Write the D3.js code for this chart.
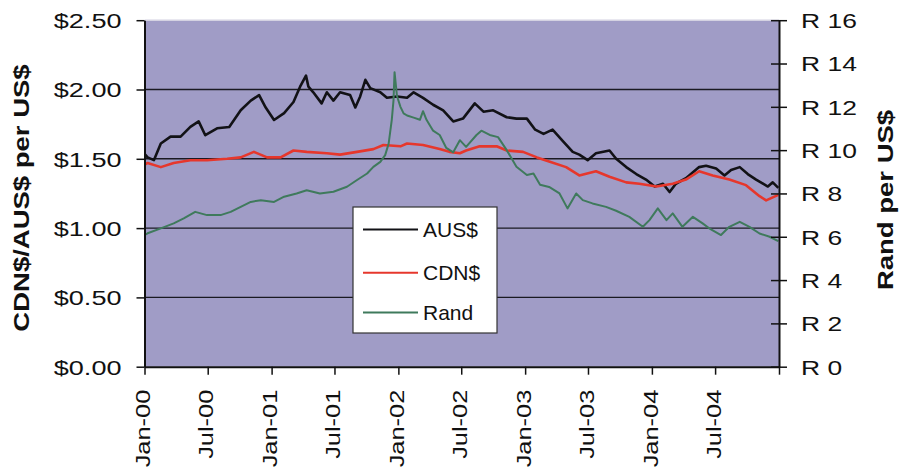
<!DOCTYPE html>
<html>
<head>
<meta charset="utf-8">
<script src="https://cdn.jsdelivr.net/npm/d3@7"></script>
<style>
  html, body { margin: 0; padding: 0; background: #ffffff; }
  svg { display: block; }
  text { font-family: Arial, "Liberation Sans", sans-serif; fill: #111; }
</style>
</head>
<body>
<svg id="chart" width="903" height="475"></svg>
<script>
// ---------------- data ----------------
const seriesNames = ["AUS$", "CDN$", "Rand"];

const audDates = ["2000-01-03","2000-01-10","2000-01-28","2000-02-17","2000-03-16","2000-04-14","2000-05-12","2000-06-05","2000-06-24","2000-07-28","2000-09-01","2000-10-04","2000-11-02","2000-11-26","2000-12-15","2001-01-08","2001-02-06","2001-03-05","2001-03-24","2001-04-10","2001-04-17","2001-05-01","2001-05-25","2001-06-09","2001-06-28","2001-07-17","2001-08-15","2001-08-30","2001-09-13","2001-09-28","2001-10-12","2001-11-10","2001-11-29","2001-12-28","2002-01-26","2002-02-14","2002-03-13","2002-04-11","2002-05-10","2002-06-08","2002-07-06","2002-08-09","2002-09-03","2002-10-01","2002-11-09","2002-12-07","2003-01-06","2003-01-30","2003-02-23","2003-03-21","2003-04-19","2003-05-18","2003-06-06","2003-06-30","2003-07-24","2003-09-01","2003-09-20","2003-10-19","2003-11-17","2003-12-15","2004-01-09","2004-02-02","2004-02-21","2004-03-10","2004-04-08","2004-05-16","2004-06-05","2004-07-04","2004-07-28","2004-08-16","2004-09-10","2004-10-03","2004-10-27","2004-11-30","2004-12-14","2004-12-30"];
const audValues = [1.53,1.51,1.49,1.61,1.66,1.66,1.73,1.77,1.67,1.72,1.73,1.85,1.92,1.96,1.87,1.78,1.83,1.91,2.02,2.10,2.02,1.98,1.90,1.98,1.92,1.98,1.96,1.87,1.95,2.07,2.01,1.98,1.94,1.95,1.94,1.98,1.94,1.89,1.85,1.77,1.79,1.90,1.84,1.85,1.80,1.79,1.79,1.71,1.68,1.71,1.63,1.55,1.53,1.49,1.54,1.56,1.50,1.44,1.39,1.35,1.30,1.32,1.26,1.32,1.36,1.44,1.45,1.43,1.38,1.42,1.44,1.39,1.35,1.30,1.33,1.29];

const cadDates = ["2000-01-03","2000-01-10","2000-02-17","2000-03-25","2000-05-12","2000-06-29","2000-08-26","2000-10-04","2000-11-11","2000-12-19","2001-01-27","2001-03-05","2001-04-12","2001-06-09","2001-07-17","2001-09-04","2001-10-21","2001-11-19","2002-01-07","2002-01-26","2002-03-13","2002-04-30","2002-05-28","2002-06-27","2002-07-15","2002-08-23","2002-10-11","2002-11-09","2002-12-26","2003-02-04","2003-03-11","2003-04-29","2003-06-06","2003-07-24","2003-09-01","2003-10-19","2003-11-26","2004-01-14","2004-03-01","2004-04-08","2004-05-16","2004-06-24","2004-08-11","2004-09-28","2004-11-06","2004-11-25","2004-12-30"];
const cadValues = [1.46,1.47,1.44,1.47,1.49,1.49,1.50,1.51,1.55,1.51,1.51,1.56,1.55,1.54,1.53,1.55,1.57,1.60,1.59,1.61,1.60,1.57,1.55,1.54,1.56,1.59,1.59,1.56,1.55,1.51,1.48,1.44,1.38,1.41,1.37,1.33,1.32,1.30,1.32,1.35,1.41,1.38,1.35,1.31,1.23,1.20,1.24];

const zarDates = ["2000-01-03","2000-01-10","2000-02-17","2000-03-25","2000-04-23","2000-05-26","2000-06-29","2000-08-07","2000-09-05","2000-10-04","2000-11-02","2000-12-01","2001-01-08","2001-02-06","2001-03-14","2001-04-12","2001-05-20","2001-06-28","2001-08-06","2001-09-04","2001-10-03","2001-10-21","2001-11-10","2001-11-24","2001-12-04","2001-12-13","2001-12-18","2001-12-21","2001-12-28","2002-01-07","2002-01-16","2002-01-26","2002-02-14","2002-03-04","2002-03-13","2002-03-23","2002-04-11","2002-04-30","2002-05-19","2002-06-08","2002-06-27","2002-07-15","2002-08-14","2002-08-28","2002-09-21","2002-10-15","2002-11-09","2002-12-07","2003-01-06","2003-01-25","2003-02-13","2003-03-11","2003-04-10","2003-05-03","2003-05-28","2003-06-16","2003-07-14","2003-08-22","2003-09-20","2003-10-28","2003-12-06","2003-12-25","2004-01-18","2004-02-12","2004-03-01","2004-03-29","2004-04-28","2004-05-26","2004-06-14","2004-07-18","2004-08-11","2004-09-10","2004-10-08","2004-11-06","2004-12-05","2004-12-30"];
const zarValues = [6.10,6.16,6.39,6.62,6.85,7.15,7.00,7.00,7.15,7.38,7.61,7.69,7.61,7.85,8.00,8.15,8.00,8.08,8.31,8.62,8.92,9.23,9.46,9.77,10.3,11.4,12.3,13.6,12.5,12.0,11.7,11.6,11.5,11.4,11.8,11.4,10.9,10.7,10.1,9.90,10.46,10.15,10.7,10.9,10.7,10.6,10.0,9.23,8.85,8.92,8.40,8.30,8.00,7.31,8.00,7.69,7.54,7.38,7.20,6.92,6.46,6.77,7.31,6.77,7.08,6.46,6.92,6.62,6.39,6.08,6.46,6.69,6.46,6.15,6.00,5.80];

const leftTicks = [0, 0.5, 1.0, 1.5, 2.0, 2.5];
const leftTickLabels = ["$0.00", "$0.50", "$1.00", "$1.50", "$2.00", "$2.50"];
const rightTicks = [0, 2, 4, 6, 8, 10, 12, 14, 16];
const rightTickLabels = ["R 0", "R 2", "R 4", "R 6", "R 8", "R 10", "R 12", "R 14", "R 16"];
const xTickDates = ["2000-01-01","2000-07-01","2001-01-01","2001-07-01","2002-01-01","2002-07-01","2003-01-01","2003-07-01","2004-01-01","2004-07-01","2005-01-01"];
const xTickLabels = ["Jan-00","Jul-00","Jan-01","Jul-01","Jan-02","Jul-02","Jan-03","Jul-03","Jan-04","Jul-04",""];
const leftTitle = "CDN$/AUS$ per US$";
const rightTitle = "Rand per US$";

// ---------------- drawing ----------------
const parse = d3.timeParse("%Y-%m-%d");
const svg = d3.select("#chart");

const X0 = 144.5, X1 = 779, Y0 = 366.7, Y1 = 20.2;
const x = d3.scaleTime().domain([parse("2000-01-01"), parse("2005-01-01")]).range([X0, X1]);
const yL = d3.scaleLinear().domain([0, 2.5]).range([Y0, Y1]);
const yR = d3.scaleLinear().domain([0, 16]).range([Y0, Y1]);

// plot background
svg.append("rect").attr("x", X0).attr("y", Y1).attr("width", X1 - X0).attr("height", Y0 - Y1)
  .attr("fill", "#a09cc6");
svg.append("line").attr("x1", X0).attr("x2", X1).attr("y1", Y1).attr("y2", Y1)
  .attr("stroke", "#d4d2e2").attr("stroke-width", 1.5);

// gridlines
svg.append("g").selectAll("line").data(leftTicks.filter(v => v > 0 && v < 2.5)).join("line")
  .attr("x1", X0).attr("x2", X1).attr("y1", d => yL(d)).attr("y2", d => yL(d))
  .attr("stroke", "#1a1a22").attr("stroke-width", 1.4);

// series
const mk = (dates, vals) => dates.map((d, i) => ({ date: parse(d), v: vals[i] }));
const audData = mk(audDates, audValues);
const cadData = mk(cadDates, cadValues);
const zarData = mk(zarDates, zarValues);

const lineL = d3.line().x(d => x(d.date)).y(d => yL(d.v));
const lineR = d3.line().x(d => x(d.date)).y(d => yR(d.v));

svg.append("path").datum(audData).attr("d", lineL).attr("fill", "none")
  .attr("stroke", "#121216").attr("stroke-width", 2.6).attr("stroke-linejoin", "round");
svg.append("path").datum(cadData).attr("d", lineL).attr("fill", "none")
  .attr("stroke", "#e6372c").attr("stroke-width", 2.6).attr("stroke-linejoin", "round");
svg.append("path").datum(zarData).attr("d", lineR).attr("fill", "none")
  .attr("stroke", "#3f7a5c").attr("stroke-width", 2).attr("stroke-linejoin", "round");

// left axis
const gL = svg.append("g").attr("transform", `translate(${X0},0)`)
  .call(d3.axisLeft(yL).tickValues(leftTicks).tickFormat((d, i) => leftTickLabels[i]).tickSize(8).tickSizeOuter(0));
gL.select(".domain").attr("stroke", "#111").attr("stroke-width", 2);
gL.selectAll(".tick line").attr("stroke", "#111").attr("stroke-width", 1.5);
gL.selectAll(".tick text").attr("x", 0).attr("dy", "0.35em")
  .attr("transform", "translate(-23,0) scale(1.29,1)")
  .style("font-size", "21px").attr("fill", "#111");

// right axis
const gR = svg.append("g").attr("transform", `translate(${X1},0)`)
  .call(d3.axisRight(yR).tickValues(rightTicks).tickFormat((d, i) => rightTickLabels[i]).tickSize(8).tickSizeOuter(0));
gR.select(".domain").attr("stroke", "#111").attr("stroke-width", 2);
gR.selectAll(".tick line").attr("x1", -8).attr("stroke", "#111").attr("stroke-width", 1.5);
gR.selectAll(".tick text").attr("x", 0).attr("dy", "0.35em")
  .attr("transform", "translate(22,0) scale(1.26,1)")
  .style("font-size", "21px").attr("fill", "#111");

// bottom axis
const gB = svg.append("g").attr("transform", `translate(0,${Y0})`)
  .call(d3.axisBottom(x).tickValues(xTickDates.map(parse)).tickFormat((d, i) => xTickLabels[i]).tickSize(8).tickSizeOuter(0));
gB.select(".domain").attr("stroke", "#111").attr("stroke-width", 2);
gB.selectAll(".tick line").attr("stroke", "#111").attr("stroke-width", 1.5);
gB.selectAll(".tick text").attr("x", 0).attr("y", 0).attr("dy", "0.25em")
  .attr("text-anchor", "end")
  .attr("transform", "translate(0,23) rotate(-90) scale(1.21,1)")
  .style("font-size", "21px").attr("fill", "#111");

// axis titles
svg.append("text").attr("text-anchor", "middle")
  .attr("transform", "translate(29,198) rotate(-90) scale(1.25,1)")
  .style("font-size", "22px").style("font-weight", "bold").text(leftTitle);
svg.append("text").attr("text-anchor", "middle")
  .attr("transform", "translate(893,200) rotate(-90) scale(1.25,1)")
  .style("font-size", "22px").style("font-weight", "bold").text(rightTitle);

// legend
const legColors = ["#121216", "#e6372c", "#3f7a5c"];
const legY = [229.5, 272.7, 312.5];
const lg = svg.append("g");
lg.append("rect").attr("x", 353).attr("y", 207).attr("width", 144).attr("height", 126)
  .attr("fill", "#ffffff").attr("stroke", "#333").attr("stroke-width", 1.2);
lg.selectAll("line").data(seriesNames).join("line")
  .attr("x1", 363).attr("x2", 418).attr("y1", (d, i) => legY[i]).attr("y2", (d, i) => legY[i])
  .attr("stroke", (d, i) => legColors[i]).attr("stroke-width", 2);
lg.selectAll("text").data(seriesNames).join("text")
  .attr("x", 423).attr("y", (d, i) => legY[i] + 7.5)
  .style("font-size", "21px").text(d => d);
</script>
</body>
</html>
